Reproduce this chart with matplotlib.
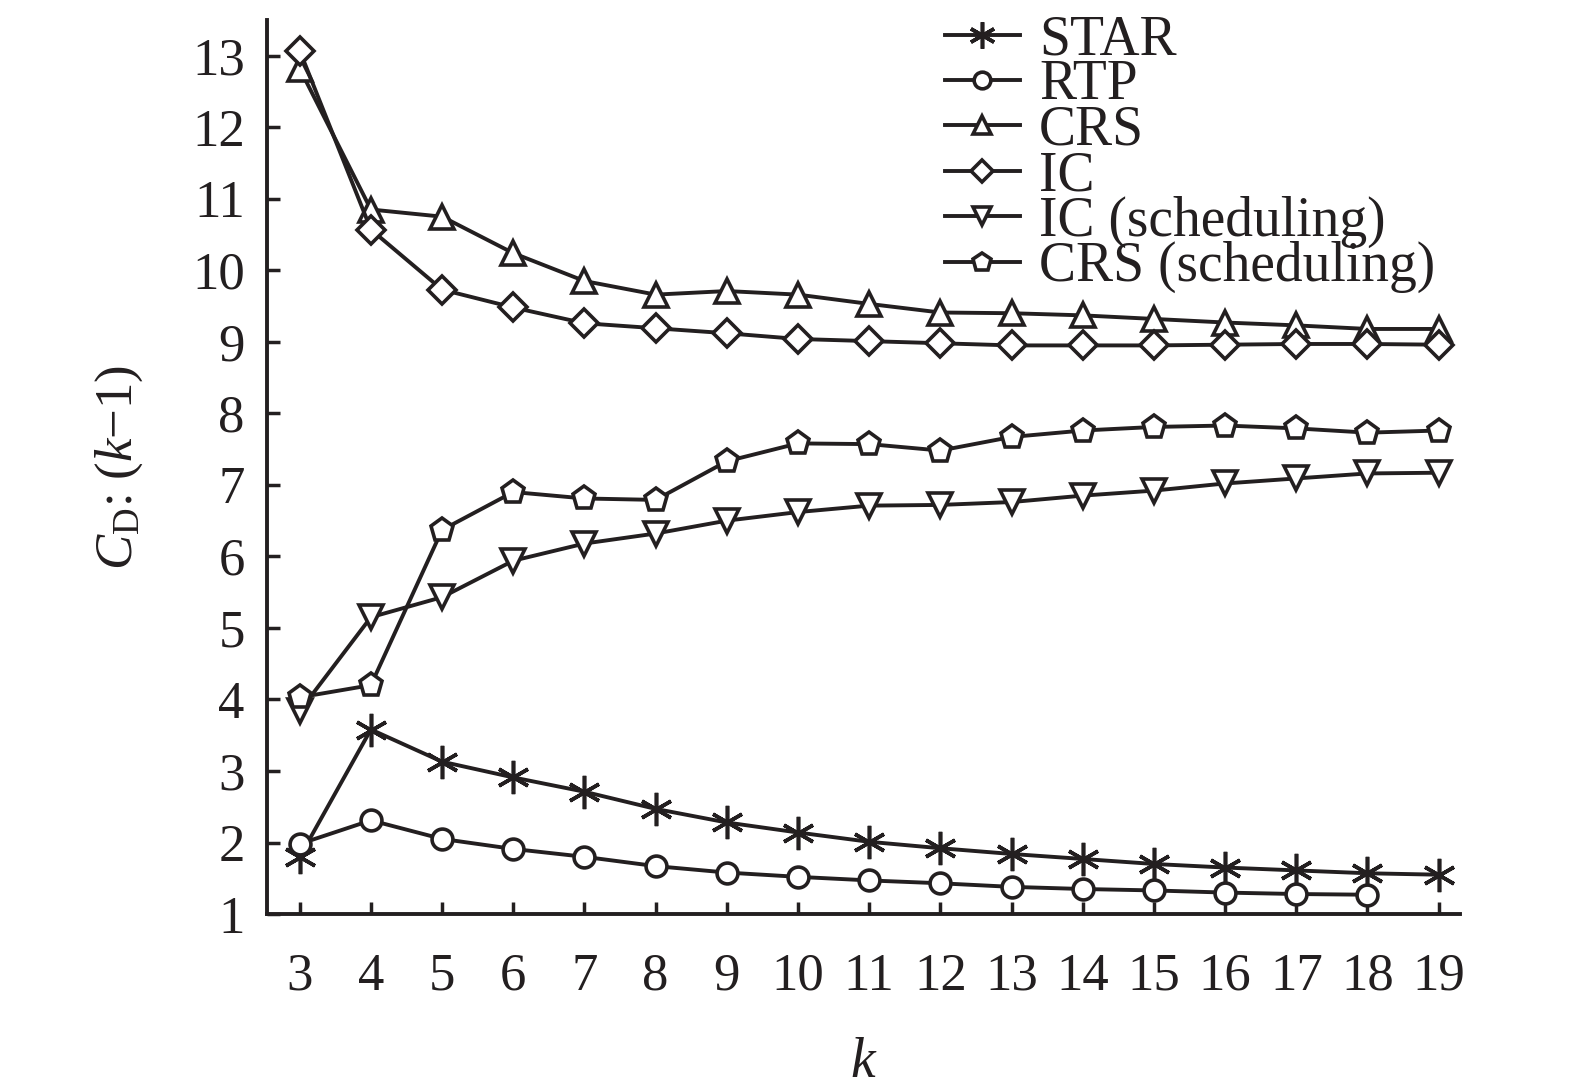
import matplotlib
matplotlib.use("Agg")
import matplotlib.pyplot as plt

plt.rcParams['font.family'] = ['Liberation Serif', 'DejaVu Serif']
plt.rcParams['mathtext.fontset'] = 'custom'
plt.rcParams['mathtext.rm'] = 'Liberation Serif'
plt.rcParams['mathtext.it'] = 'Liberation Serif:italic'

k = list(range(3, 20))
star = [1.80, 3.58, 3.13, 2.91, 2.71, 2.47, 2.28, 2.14, 2.01, 1.92, 1.84, 1.77, 1.70, 1.65, 1.61, 1.57, 1.55]
rtp = [1.98, 2.31, 2.05, 1.91, 1.80, 1.67, 1.58, 1.52, 1.47, 1.43, 1.38, 1.35, 1.33, 1.30, 1.28, 1.27]
crs = [12.82, 10.85, 10.75, 10.24, 9.85, 9.66, 9.71, 9.66, 9.53, 9.41, 9.40, 9.37, 9.32, 9.27, 9.23, 9.18, 9.18]
ic = [13.07, 10.57, 9.73, 9.48, 9.26, 9.19, 9.12, 9.04, 9.01, 8.98, 8.95, 8.95, 8.95, 8.96, 8.97, 8.97, 8.96]
ic_sched = [3.84, 5.15, 5.43, 5.94, 6.18, 6.32, 6.50, 6.62, 6.71, 6.72, 6.76, 6.85, 6.92, 7.02, 7.09, 7.16, 7.17]
crs_sched = [4.03, 4.20, 6.37, 6.90, 6.81, 6.79, 7.33, 7.58, 7.57, 7.48, 7.67, 7.76, 7.81, 7.83, 7.79, 7.73, 7.76]
labels = ['STAR', 'RTP', 'CRS', 'IC', 'IC (scheduling)', 'CRS (scheduling)']
xticks = list(range(3, 20))
yticks = list(range(1, 14))

col = '#231f20'
fig = plt.figure(figsize=(15.75, 10.91), dpi=100)
ax = fig.add_axes([0.1695, 0.1622, 0.927 - 0.1695, 0.9817 - 0.1622])

series = [(k, star, (6, 2, 0), 24), (k[:len(rtp)], rtp, 'o', 15),
          (k, crs, '^', 17), (k, ic, 'D', 14),
          (k, ic_sched, 'v', 17), (k, crs_sched, 'p', 17)]
for (x, y, m, ms), lab in zip(series, labels):
    ax.plot(x, y, color=col, lw=2.8, marker=m, ms=ms, mfc='white', mec=col,
            mew=2.6, label=lab)

ax.set_xlim(2.54, 19.3)
ax.set_ylim(1, 13.5)
ax.set_xticks(xticks)
ax.set_yticks(yticks)
ax.tick_params(direction='in', length=9, width=2.5, labelsize=38, colors=col)
ax.tick_params(axis='x', pad=28)
ax.tick_params(axis='y', pad=16)
for s in ['top', 'right']:
    ax.spines[s].set_visible(False)
for s in ['left', 'bottom']:
    ax.spines[s].set_linewidth(2.8)
    ax.spines[s].set_color(col)

ax.set_xlabel('$k$', fontsize=40, color=col, labelpad=26)
ax.set_ylabel('$C_\\mathrm{D}$: ($k$\u22121)', fontsize=38, color=col, labelpad=34)

leg = ax.legend(loc='upper right', bbox_to_anchor=(1.012, 1.05), frameon=False,
                fontsize=40, labelspacing=-0.12, handlelength=1.35,
                handletextpad=0.35, borderpad=0.2, markerscale=0.8)
for t in leg.get_texts():
    t.set_color(col)

fig.savefig('out.png', dpi=100)
